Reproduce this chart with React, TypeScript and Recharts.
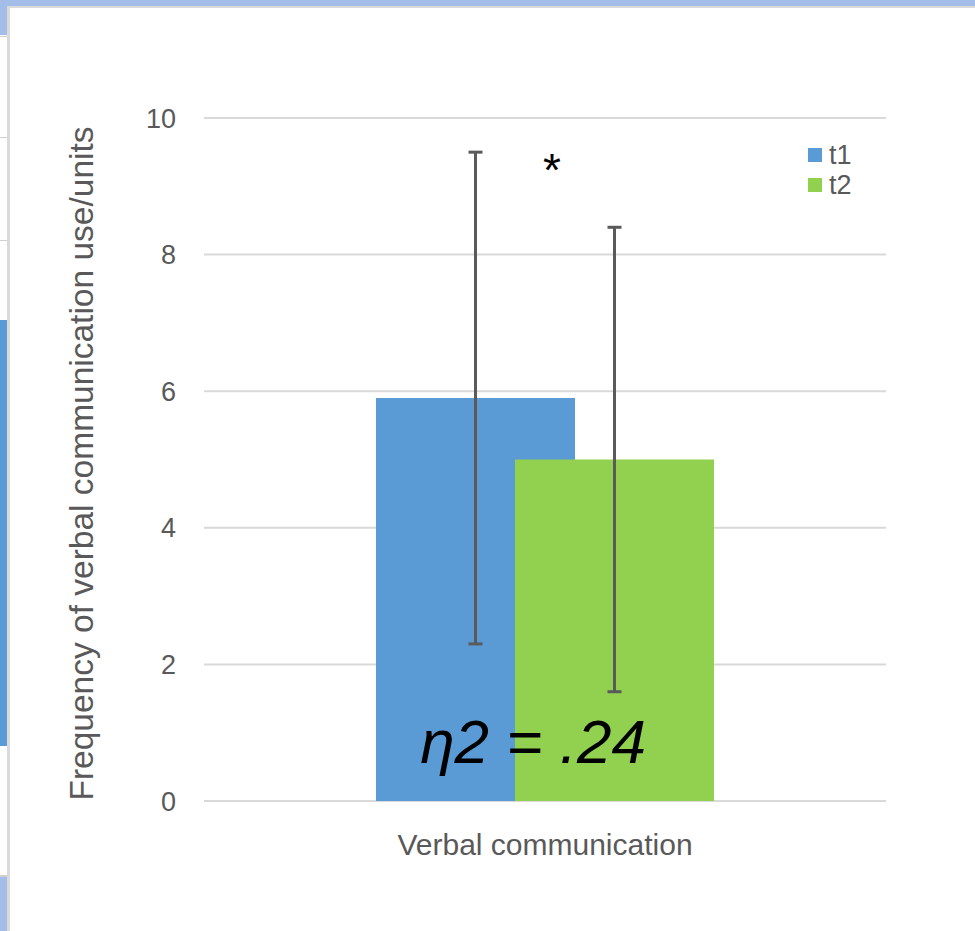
import React from 'react';
import {
  BarChart, Bar, XAxis, YAxis, CartesianGrid, ErrorBar, Legend, ReferenceDot,
} from 'recharts';

const categories = ['Verbal communication'];
const t1Values = [5.9];
const t2Values = [5.0];
const t1Errors = [3.6];
const t2Errors = [3.4];
const yTicks = [0, 2, 4, 6, 8, 10];
const seriesNames = ['t1', 't2'];
const seriesColors = ['#5B9BD5', '#92D050'];
const yLabel = 'Frequency of verbal communication use/units';
const starLabel = '*';
const starValue = 9.0;
const effectLabel = 'η2 = .24';
const effectValue = 0.55;

const data = categories.map((c, i) => ({
  name: c,
  t1: t1Values[i],
  t2: t2Values[i],
  t1Err: t1Errors[i],
  t2Err: t2Errors[i],
}));

const FONT = '"Liberation Sans", Arial, sans-serif';
const GREY = '#595959';

const renderLegend = () => (
  <div style={{ fontFamily: FONT }}>
    {seriesNames.map((n, i) => (
      <div key={n} style={{ display: 'flex', alignItems: 'center', height: 30 }}>
        <div style={{ width: 14, height: 14, background: seriesColors[i], marginRight: 7 }} />
        <span style={{ fontSize: 27, color: GREY, lineHeight: '30px' }}>{n}</span>
      </div>
    ))}
  </div>
);

const YLabelContent = (props: any) => {
  const vb = props.viewBox || {};
  const x = vb.x + 83;
  const y = vb.y + vb.height / 2 + 4;
  return (
    <text
      x={x}
      y={y}
      transform={`rotate(-90, ${x}, ${y})`}
      textAnchor="middle"
      fontSize={33.5}
      fill={GREY}
      fontFamily={FONT}
    >
      {yLabel}
    </text>
  );
};

export default function App() {
  return (
    <div style={{ position: 'absolute', left: 0, top: 0, width: 975, height: 931, background: '#fff', overflow: 'hidden' }}>
      {/* screenshot frame decorations */}
      <div style={{ position: 'absolute', left: 0, top: 0, width: 975, height: 6, background: '#A4BDE8' }} />
      <div style={{ position: 'absolute', left: 0, top: 0, width: 7, height: 35, background: '#A4BDE8' }} />
      <div style={{ position: 'absolute', left: 7, top: 6, width: 968, height: 2, background: '#DADADA' }} />
      <div style={{ position: 'absolute', left: 7, top: 6, width: 3, height: 925, background: '#DADADA' }} />
      <div style={{ position: 'absolute', left: 0, top: 36, width: 7, height: 1, background: '#D0D0D0' }} />
      <div style={{ position: 'absolute', left: 0, top: 137, width: 7, height: 1, background: '#D0D0D0' }} />
      <div style={{ position: 'absolute', left: 0, top: 240, width: 7, height: 1, background: '#D0D0D0' }} />
      <div style={{ position: 'absolute', left: 0, top: 320, width: 7, height: 426, background: '#5B9BD5' }} />
      <div style={{ position: 'absolute', left: 0, top: 875, width: 7, height: 2, background: '#D0D0D0' }} />
      <div style={{ position: 'absolute', left: 0, top: 877, width: 7, height: 54, background: '#A4BDE8' }} />
      <div style={{ position: 'absolute', left: 10, top: 8, width: 965, height: 923 }}>
        <BarChart
          width={965}
          height={923}
          data={data}
          margin={{ top: 110, right: 89, bottom: 100, left: 0 }}
          barSize={199}
          barGap={-60}
        >
          <CartesianGrid vertical={false} stroke="#D9D9D9" strokeWidth={2} />
          <XAxis
            dataKey="name"
            height={30}
            axisLine={false}
            tickLine={false}
            tick={{ fontSize: 30, fill: GREY, fontFamily: FONT }}
            tickMargin={27}
          />
          <YAxis
            width={194}
            domain={[0, 10]}
            ticks={yTicks}
            axisLine={false}
            tickLine={false}
            tickMargin={22}
            tick={{ fontSize: 27, fill: GREY, fontFamily: FONT }}
            label={<YLabelContent />}
          />
          <Legend
            verticalAlign="middle"
            align="center"
            layout="horizontal"
            content={renderLegend}
            wrapperStyle={{ position: 'absolute', top: 132, left: 798, width: 80 }}
          />
          <Bar dataKey="t1" name={seriesNames[0]} fill={seriesColors[0]} isAnimationActive={false}>
            <ErrorBar dataKey="t1Err" width={7} stroke="#5A5A5A" strokeWidth={3} direction="y" />
          </Bar>
          <Bar dataKey="t2" name={seriesNames[1]} fill={seriesColors[1]} isAnimationActive={false}>
            <ErrorBar dataKey="t2Err" width={7} stroke="#5A5A5A" strokeWidth={3} direction="y" />
          </Bar>
          <ReferenceDot
            x={categories[0]}
            y={starValue}
            r={0}
            isFront
            label={(p: any) => (
              <text x={p.viewBox.x + 7} y={p.viewBox.y} textAnchor="middle" fontSize={46} fontFamily={FONT} fill="#000">
                {starLabel}
              </text>
            )}
          />
          <ReferenceDot
            x={categories[0]}
            y={effectValue}
            r={0}
            isFront
            label={(p: any) => (
              <text x={p.viewBox.x - 12} y={p.viewBox.y} textAnchor="middle" fontSize={62} fontStyle="italic" fontFamily={FONT} fill="#000">
                {effectLabel}
              </text>
            )}
          />
        </BarChart>
      </div>
    </div>
  );
}
